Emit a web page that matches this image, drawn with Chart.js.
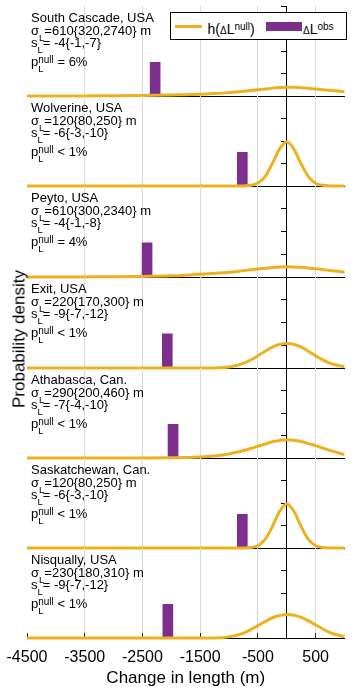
<!DOCTYPE html>
<html>
<head>
<meta charset="utf-8">
<script src="https://cdn.jsdelivr.net/npm/chart.js@4.4.1/dist/chart.umd.min.js"></script>
<style>
html,body{margin:0;padding:0;background:#fff;}
body{width:355px;height:696px;position:relative;overflow:hidden;font-family:"Liberation Sans",Arial,Helvetica,sans-serif;color:#000;}
canvas{position:absolute;left:0;z-index:1;}
.note{position:absolute;left:31px;font-size:13px;line-height:13px;z-index:3;}
.ln{position:absolute;left:0;white-space:nowrap;}
.sub{position:relative;top:6px;font-size:9.5px;}
.sub2{position:absolute;left:7.3px;top:9px;font-size:9.5px;line-height:9.5px;}
.sup{position:relative;top:-3.5px;font-size:10px;}
#ytitle{position:absolute;left:19.1px;top:339px;transform:translate(-50%,-50%) rotate(-90deg);font-size:17px;line-height:17px;white-space:nowrap;z-index:3;}
#legend{position:absolute;left:170px;top:12px;width:177px;height:28px;box-sizing:border-box;border:1px solid #000;background:#fff;z-index:4;}
.lg{position:absolute;z-index:5;}
.lgt{position:absolute;z-index:5;font-size:14px;line-height:14px;white-space:nowrap;}
.dl{font-size:10px;}
.lsup{position:relative;top:-3.5px;font-size:10px;}
</style>
</head>
<body>
<div id="ytitle">Probability density</div>
<div id="legend"></div>
<div class="lg" style="left:175px;top:25px;width:27px;height:3px;background:#EDB120;"></div>
<div class="lgt" style="left:207.5px;top:21.5px;">h(<span class="dl">Δ</span>L<span class="lsup">null</span>)</div>
<div class="lg" style="left:266px;top:22px;width:36px;height:9px;background:#7E2F8E;"></div>
<div class="lgt" style="left:303px;top:21.5px;"><span class="dl">Δ</span>L<span class="lsup">obs</span></div>
<script>
// ---- data ----
const glacierNames = ['South Cascade, USA','Wolverine, USA','Peyto, USA','Exit, USA','Athabasca, Can.','Saskatchewan, Can.','Nisqually, USA'];
const sigmaL = ['610{320,2740}','120{80,250}','610{300,2340}','220{170,300}','290{200,460}','120{80,250}','230{180,310}'];
const sL = ['-4{-1,-7}','-6{-3,-10}','-4{-1,-8}','-9{-7,-12}','-7{-4,-10}','-6{-3,-10}','-9{-7,-12}'];
const pNull = ['= 6%','< 1%','= 4%','< 1%','< 1%','< 1%','< 1%'];

const xTickValues = [-4500, -3500, -2500, -1500, -500, 500];
const xTickLabels = ['-4500', '-3500', '-2500', '-1500', '-500', '500'];
const xAxisTitle = 'Change in length (m)';

// density curves h(ΔL_null), in 10^-3 per m, sampled at densityX
const densityX = [-4500,-4000,-3500,-3000,-2500,-2000,-1750,-1500,-1250,-1000,-750,-625,-500,-375,-250,-125,0,125,250,375,500,625,750,1000];
const southCascadeDensity = [0,0,0.005,0.01,0.02,0.04,0.06,0.08,0.11,0.15,0.21,0.245,0.28,0.315,0.35,0.375,0.39,0.385,0.37,0.34,0.31,0.28,0.25,0.19];
const wolverineDensity    = [0,0,0,0,0,0,0,0,0,0,0.005,0.03,0.13,0.42,1.0,1.65,1.97,1.63,0.98,0.42,0.12,0.03,0.005,0];
const peytoDensity        = [0,0,0.005,0.01,0.025,0.05,0.08,0.12,0.16,0.21,0.28,0.315,0.35,0.385,0.42,0.44,0.45,0.445,0.43,0.40,0.36,0.325,0.29,0.21];
const exitDensity         = [0,0,0,0,0,0,0,0,0.005,0.04,0.2,0.35,0.54,0.74,0.92,1.04,1.08,1.04,0.92,0.74,0.54,0.36,0.21,0.05];
const athabascaDensity    = [0,0,0,0,0,0.01,0.02,0.04,0.09,0.18,0.33,0.42,0.52,0.62,0.72,0.78,0.81,0.79,0.73,0.64,0.55,0.44,0.34,0.15];
const saskatchewanDensity = [0,0,0,0,0,0,0,0,0,0,0.003,0.02,0.1,0.38,0.95,1.62,1.97,1.62,0.95,0.38,0.1,0.02,0.003,0];
const nisquallyDensity    = [0,0,0,0,0,0,0,0,0.005,0.05,0.22,0.37,0.55,0.73,0.9,1.0,1.04,1.01,0.92,0.76,0.58,0.4,0.24,0.05];

// observed change in length ΔL_obs (m) and marker height
const obsChange = [-2280, -770, -2420, -2070, -1970, -770, -2060];
const obsMarker = [1.5, 1.5, 1.5, 1.5, 1.5, 1.5, 1.5];

// ---- layout ----
const densities = [southCascadeDensity, wolverineDensity, peytoDensity, exitDensity, athabascaDensity, saskatchewanDensity, nisquallyDensity];
const panelTop = [6, 96, 186, 277, 368, 458, 548];
const panelBottom = [96, 186, 277, 368, 458, 548, 638];
const FONT = '"Liberation Sans", Arial, Helvetica, sans-serif';

for (let i = 0; i < 7; i++) {
  const last = i === 6;
  const h = last ? 696 - panelTop[i] : panelBottom[i] - panelTop[i] + 3;
  const c = document.createElement('canvas');
  c.width = 355; c.height = h;
  c.style.top = panelTop[i] + 'px';
  c.style.width = '355px'; c.style.height = h + 'px';
  document.body.appendChild(c);

  new Chart(c, {
    type: 'line',
    data: {
      datasets: [
        {
          type: 'line',
          data: densityX.map((x, k) => ({x: x, y: densities[i][k]})),
          borderColor: '#EDB120', borderWidth: 3, pointRadius: 0,
          cubicInterpolationMode: 'monotone', fill: false, clip: false, order: 0
        },
        {
          type: 'bar',
          data: [{x: obsChange[i], y: obsMarker[i]}],
          backgroundColor: '#7E2F8E', borderWidth: 0, barThickness: 10, order: 1
        }
      ]
    },
    options: {
      responsive: false, animation: false, devicePixelRatio: 1, events: [],
      layout: {padding: {left: 27, right: 10.5, top: 0, bottom: last ? 0 : 3}},
      plugins: {legend: {display: false}, tooltip: {enabled: false}},
      scales: {
        x: {
          type: 'linear', min: -4500, max: 1000, offset: false,
          afterBuildTicks: s => { s.ticks = xTickValues.map(v => ({value: v})); },
          grid: {
            offset: false,
            color: ctx => (ctx.tick && ctx.tick.value === -4500) ? 'rgba(0,0,0,0)' : '#dadada',
            lineWidth: 1, drawTicks: last, tickLength: -5, tickColor: '#222'
          },
          border: {display: true, color: '#000', width: 1},
          ticks: {
            display: last, autoSkip: false, maxRotation: 0, minRotation: 0, padding: 3,
            color: '#000', font: {family: FONT, size: 16, lineHeight: 2.7125},
            callback: (v, idx) => xTickLabels[idx]
          },
          title: {
            display: last, text: xAxisTitle, color: '#000',
            font: {family: FONT, size: 17}, padding: {top: -14.3, bottom: 7.5}
          }
        },
        y: {
          type: 'linear', min: 0, max: 4, position: {x: 0},
          ticks: {display: false, stepSize: 1},
          grid: {drawOnChartArea: false, drawTicks: true, tickLength: 5, color: '#000'},
          border: {display: true, color: '#000', width: 1}
        }
      }
    }
  });

  const note = document.createElement('div');
  note.className = 'note';
  note.style.top = panelTop[i] + 'px';
  note.innerHTML =
    '<div class="ln" style="top:5px">' + glacierNames[i] + '</div>' +
    '<div class="ln" style="top:17.5px">σ<span class="sub">L</span>=' + sigmaL[i] + ' m</div>' +
    '<div class="ln" style="top:30px">s<span class="sub">L</span>= ' + sL[i] + '</div>' +
    '<div class="ln" style="top:49px">p<span class="sub2">L</span><span class="sup">null</span> ' + pNull[i] + '</div>';
  document.body.appendChild(note);
}
</script>
</body>
</html>
